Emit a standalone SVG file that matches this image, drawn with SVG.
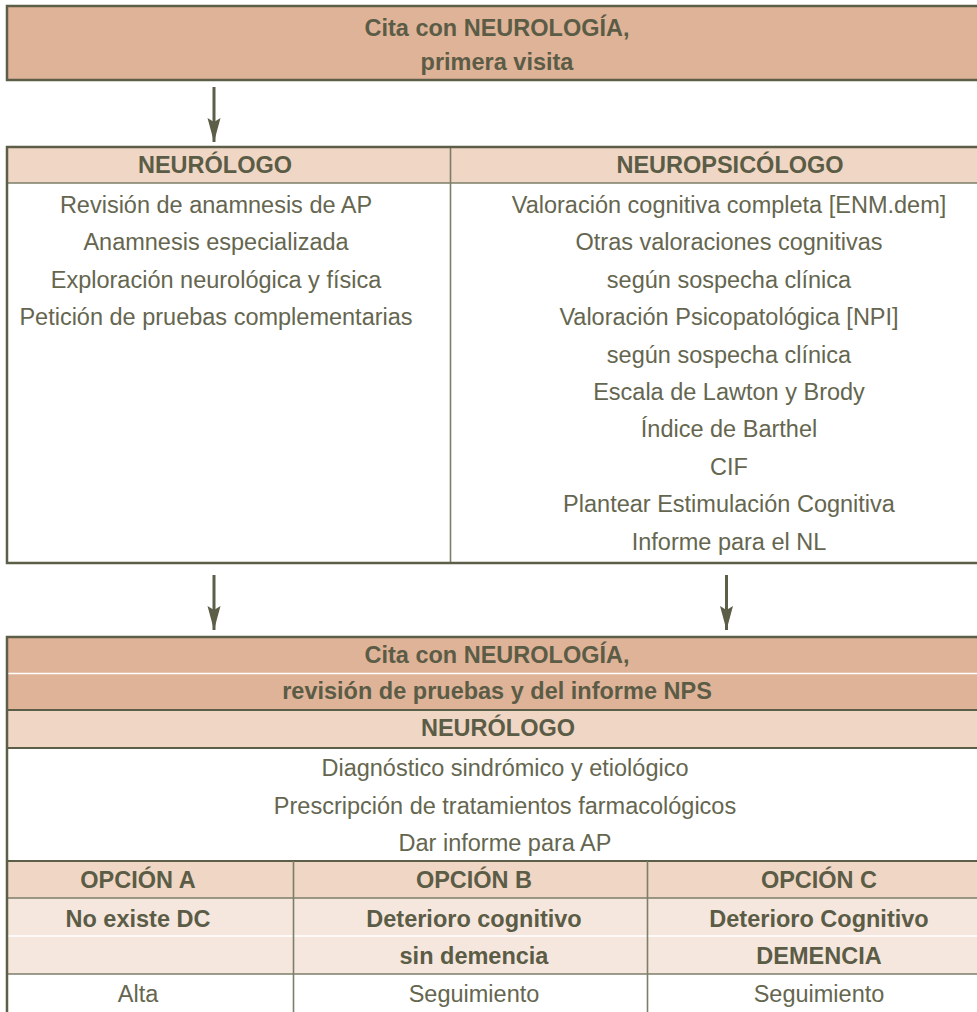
<svg xmlns="http://www.w3.org/2000/svg" width="977" height="1012" viewBox="0 0 977 1012">
  <style>
    .t { font-family: "Liberation Sans", Arial, sans-serif; font-size: 23.5px; fill: #5b5c46; text-anchor: middle; }
    .l { fill: #65664f; }
    .b { font-weight: bold; }
    .salmon { fill: #dfb398; }
    .head { fill: #f0d6c5; }
    .pale { fill: #f6e7de; }
    .white { fill: #ffffff; }
    .frame { fill: none; stroke: #5d5e48; stroke-width: 2.5; }
    .rule { stroke: #5d5e48; stroke-width: 2; }
    .inner { stroke: #7d7e68; stroke-width: 1.6; }
    .gap { stroke: #ffffff; stroke-width: 1.5; }
    .arrow { stroke: #5d5e48; stroke-width: 3; fill: none; marker-end: url(#head); }
  </style>
  <defs>
    <!-- slim arrowhead with a notched back, tip at the line end -->
    <marker id="head" markerUnits="userSpaceOnUse" markerWidth="28" markerHeight="16" viewBox="-26 -8 28 16" refX="0" refY="0" orient="auto">
      <path d="M0,0 L-24,-6.5 L-20,0 L-24,6.5 Z" fill="#5d5e48"/>
    </marker>
  </defs>

  <rect width="977" height="1012" fill="#ffffff"/>

  <!-- First visit -->
  <g id="visita-1">
    <rect class="salmon" x="7" y="6" width="1000" height="74"/>
    <rect class="frame" x="7" y="6" width="1000" height="74"/>
    <text class="t b" x="497" y="36">Cita con NEUROLOGÍA,</text>
    <text class="t b" x="497" y="70">primera visita</text>
  </g>

  <!-- Neurologist / neuropsychologist work-up -->
  <g id="evaluacion">
    <rect class="head" x="7" y="147" width="1000" height="36"/>
    <rect class="white" x="7" y="183" width="1000" height="380"/>
    <line class="inner" x1="7" y1="183" x2="1000" y2="183"/>
    <line class="inner" x1="450.5" y1="147" x2="450.5" y2="563"/>
    <rect class="frame" x="7" y="147" width="1000" height="416"/>

    <g id="neurologo">
      <text class="t b" x="215" y="173">NEURÓLOGO</text>
      <text class="t l" x="216" y="213">Revisión de anamnesis de AP</text>
      <text class="t l" x="216" y="250.4">Anamnesis especializada</text>
      <text class="t l" x="216" y="287.8">Exploración neurológica y física</text>
      <text class="t l" x="216" y="325.2">Petición de pruebas complementarias</text>
    </g>

    <g id="neuropsicologo">
      <text class="t b" x="730" y="173">NEUROPSICÓLOGO</text>
      <text class="t l" x="729" y="213">Valoración cognitiva completa [ENM.dem]</text>
      <text class="t l" x="729" y="250.4">Otras valoraciones cognitivas</text>
      <text class="t l" x="729" y="287.8">según sospecha clínica</text>
      <text class="t l" x="729" y="325.2">Valoración Psicopatológica [NPI]</text>
      <text class="t l" x="729" y="362.6">según sospecha clínica</text>
      <text class="t l" x="729" y="400">Escala de Lawton y Brody</text>
      <text class="t l" x="729" y="437.4">Índice de Barthel</text>
      <text class="t l" x="729" y="474.8">CIF</text>
      <text class="t l" x="729" y="512.2">Plantear Estimulación Cognitiva</text>
      <text class="t l" x="729" y="549.6">Informe para el NL</text>
    </g>
  </g>

  <!-- Second visit: review and outcome options -->
  <g id="visita-2">
    <rect class="salmon" x="7" y="637" width="1000" height="73"/>
    <line class="gap" x1="8" y1="673.5" x2="1000" y2="673.5"/>
    <rect class="head" x="7" y="710" width="1000" height="38"/>
    <rect class="white" x="7" y="748" width="1000" height="113"/>
    <rect class="head" x="7" y="861" width="1000" height="37"/>
    <rect class="pale" x="7" y="898" width="1000" height="76"/>
    <line class="gap" x1="8" y1="936" x2="1000" y2="936"/>
    <rect class="white" x="7" y="974" width="1000" height="40"/>

    <line class="rule" x1="7" y1="710" x2="1000" y2="710"/>
    <line class="rule" x1="7" y1="748" x2="1000" y2="748"/>
    <line class="rule" x1="7" y1="861" x2="1000" y2="861"/>
    <line class="inner" x1="7" y1="898" x2="1000" y2="898"/>
    <line class="inner" x1="7" y1="974" x2="1000" y2="974"/>
    <line class="inner" x1="293.5" y1="861" x2="293.5" y2="1014"/>
    <line class="inner" x1="647.5" y1="861" x2="647.5" y2="1014"/>
    <rect class="frame" x="7" y="637" width="1000" height="400"/>

    <text class="t b" x="497" y="663">Cita con NEUROLOGÍA,</text>
    <text class="t b" x="497" y="699">revisión de pruebas y del informe NPS</text>
    <text class="t b" x="498" y="736">NEURÓLOGO</text>
    <text class="t l" x="505" y="776">Diagnóstico sindrómico y etiológico</text>
    <text class="t l" x="505" y="814">Prescripción de tratamientos farmacológicos</text>
    <text class="t l" x="505" y="851">Dar informe para AP</text>

    <g id="opcion-a">
      <text class="t b" x="138" y="888">OPCIÓN A</text>
      <text class="t b" x="138" y="927">No existe DC</text>
      <text class="t l" x="138" y="1002">Alta</text>
    </g>
    <g id="opcion-b">
      <text class="t b" x="474" y="888">OPCIÓN B</text>
      <text class="t b" x="474" y="927">Deterioro cognitivo</text>
      <text class="t b" x="474" y="964">sin demencia</text>
      <text class="t l" x="474" y="1002">Seguimiento</text>
    </g>
    <g id="opcion-c">
      <text class="t b" x="819" y="888">OPCIÓN C</text>
      <text class="t b" x="819" y="927">Deterioro Cognitivo</text>
      <text class="t b" x="819" y="964">DEMENCIA</text>
      <text class="t l" x="819" y="1002">Seguimiento</text>
    </g>
  </g>

  <!-- Connectors -->
  <g id="conectores">
    <line class="arrow" x1="214" y1="87" x2="214" y2="142"/>
    <line class="arrow" x1="214" y1="575" x2="214" y2="630"/>
    <line class="arrow" x1="726.5" y1="575" x2="726.5" y2="630"/>
  </g>
</svg>
